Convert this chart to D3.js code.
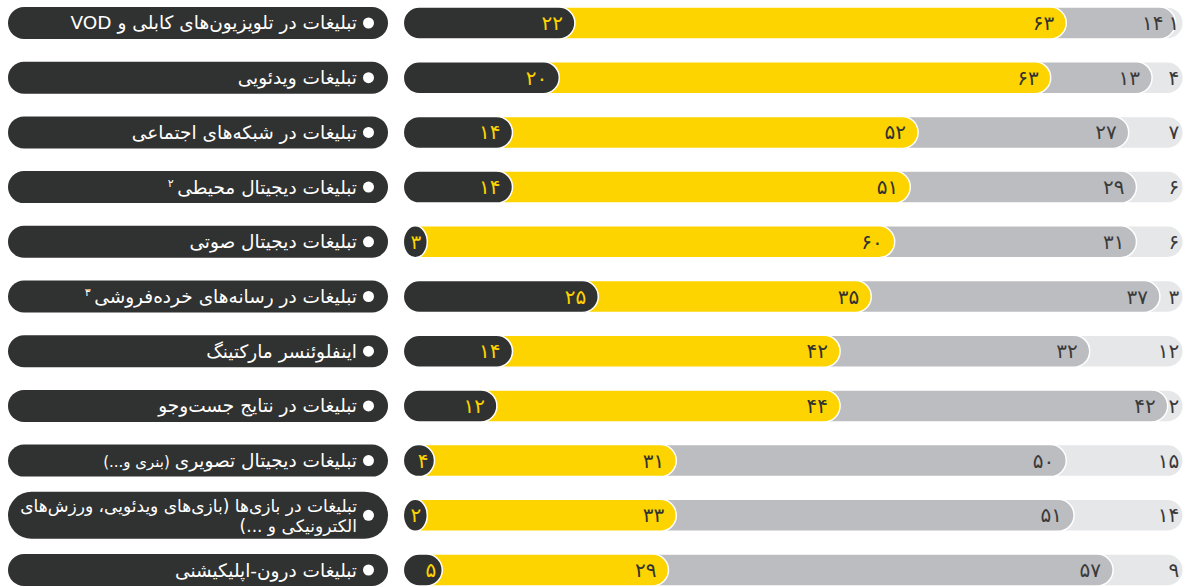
<!DOCTYPE html>
<html><head><meta charset="utf-8">
<script src="https://cdn.jsdelivr.net/npm/d3@7"></script>
<style>html,body{margin:0;padding:0;background:#fff;}svg{display:block;}</style>
</head><body>
<svg id="chart" width="1187" height="587"></svg>
<script>
// ---- data ----
const categories = [
  "تبلیغات در تلویزیون‌های کابلی و VOD",
  "تبلیغات ویدئویی",
  "تبلیغات در شبکه‌های اجتماعی",
  "تبلیغات دیجیتال محیطی",
  "تبلیغات دیجیتال صوتی",
  "تبلیغات در رسانه‌های خرده‌فروشی",
  "اینفلوئنسر مارکتینگ",
  "تبلیغات در نتایج جست‌وجو",
  "تبلیغات دیجیتال تصویری",
  "تبلیغات در بازی‌ها (بازی‌های ویدئویی، ورزش‌های|الکترونیکی و ...)",
  "تبلیغات درون-اپلیکیشنی"
];
const footnotes = ["", "", "", "۲", "", "۳", "", "", "", "", ""];
const smallSuffix = ["", "", "", "", "", "", "", "", "(بنری و...)", "", ""];
const darkVals   = [22, 20, 14, 14, 3, 25, 14, 12, 4, 2, 5];
const yellowVals = [63, 63, 52, 51, 60, 35, 42, 44, 31, 33, 29];
const greyVals   = [14, 13, 27, 29, 31, 37, 32, 42, 50, 51, 57];
const lightVals  = [1, 4, 7, 6, 6, 3, 12, 2, 15, 14, 9];
const seriesColors = ["#303231", "#FDD400", "#BCBDC0", "#E6E7E8"];
const labelColors  = ["#FDD400", "#303231", "#3a3a3a", "#3a3a3a"];

// ---- helpers ----
const faDigits = "۰۱۲۳۴۵۶۷۸۹";
const toFa = n => String(n).replace(/\d/g, d => faDigits[+d]);

const svg = d3.select("#chart");
const font = "'DejaVu Sans', sans-serif";

const x = d3.scaleLinear().domain([0, 100]).range([403.3, 1183.3]);
const y = d3.scaleBand().domain(d3.range(categories.length)).range([7, 586]).paddingInner(0.415).paddingOuter(0);
const bh = y.bandwidth();

const series = [darkVals, yellowVals, greyVals, lightVals];

categories.forEach((cat, i) => {
  const g = svg.append("g");
  const top = y(i), cy = top + bh / 2;
  const twoLine = cat.includes("|");
  const ph = twoLine ? 47 : bh;

  // label pill
  g.append("rect").attr("x", 8).attr("y", cy - ph / 2).attr("width", 380).attr("height", ph)
    .attr("rx", ph / 2).attr("fill", "#303231");
  g.append("circle").attr("cx", 368.5).attr("cy", cy).attr("r", 5.5).attr("fill", "#fff");

  const lines = cat.split("|");
  const texts = [];
  lines.forEach((ln, li) => {
    const ty = cy + (li - (lines.length - 1) / 2) * 20 + 6.5;
    const t = g.append("text").attr("x", 357).attr("y", ty)
      .attr("fill", "#fff").attr("font-family", font).attr("font-size", 18.5)
      .style("direction", "rtl").attr("text-anchor", "start");
    t.append("tspan").text(ln);
    if (li === lines.length - 1 && smallSuffix[i]) {
      t.append("tspan").attr("font-size", 15).text(" " + smallSuffix[i]);
    }
    if (li === lines.length - 1 && footnotes[i]) {
      t.append("tspan").attr("font-size", 11).attr("dy", -7).text(" " + footnotes[i]);
    }
    texts.push(t);
  });
  // shrink to fit inside the pill
  const maxW = twoLine ? 337 : 330;
  const widest = d3.max(texts, t => t.node().getComputedTextLength());
  if (widest > maxW) {
    const fs = 18.5 * maxW / widest;
    texts.forEach(t => t.attr("font-size", fs));
  }

  // stacked pills: draw from the last (full) to first
  const cum = [];
  let s = 0;
  series.forEach(arr => { s += arr[i]; cum.push(s); });
  for (let k = series.length - 1; k >= 0; k--) {
    const w = Math.max(x(cum[k]) - x(0), 24);
    g.append("rect").attr("x", x(0)).attr("y", top).attr("width", w).attr("height", bh)
      .attr("rx", bh / 2).attr("ry", bh / 2)
      .attr("fill", seriesColors[k]).attr("stroke", "#fff").attr("stroke-width", 1.5);
  }
  // value labels
  series.forEach((arr, k) => {
    const end = x(0) + Math.max(x(cum[k]) - x(0), 24);
    const pad = k === 3 ? 4 : (k === 0 && arr[i] < 6 ? 6 : 12);
    g.append("text").attr("x", end - pad).attr("y", cy + 7)
      .attr("text-anchor", "end").attr("font-family", font).attr("font-size", 20)
      .attr("font-weight", "normal")
      .attr("fill", labelColors[k]).text(toFa(arr[i]));
  });
});
</script>
</body></html>
